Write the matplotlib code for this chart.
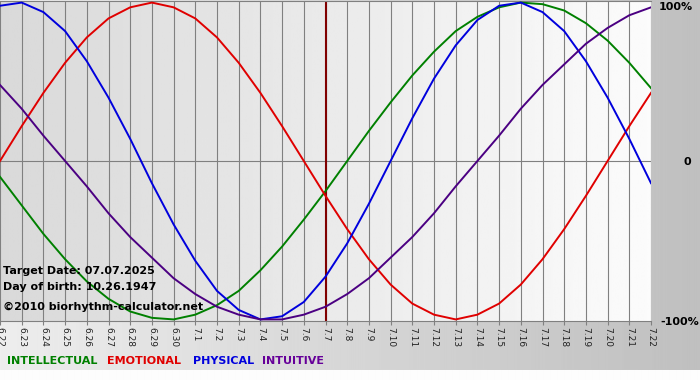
"""
Biorhythm chart 06.22 - 07.22 (target 07.07.2025)
"""
import numpy as np
import matplotlib.pyplot as plt

# date labels along the bottom
days = ["6.22", "6.23", "6.24", "6.25", "6.26", "6.27", "6.28", "6.29", "6.30",
        "7.1", "7.2", "7.3", "7.4", "7.5", "7.6", "7.7", "7.8", "7.9", "7.10",
        "7.11", "7.12", "7.13", "7.14", "7.15", "7.16", "7.17", "7.18", "7.19",
        "7.20", "7.21", "7.22"]
target_day = "7.7"

# values, one per day (-1 .. 1)
intellectual = [-0.10, -0.28, -0.46, -0.62, -0.76, -0.87, -0.95, -0.99, -1.00, -0.97,
                -0.91, -0.82, -0.69, -0.54, -0.37, -0.19, 0.00, 0.19, 0.37, 0.54,
                0.69, 0.82, 0.91, 0.97, 1.00, 0.99, 0.95, 0.87, 0.76, 0.62, 0.46]
emotional = [0.00, 0.22, 0.43, 0.62, 0.78, 0.90, 0.97, 1.00, 0.97, 0.90,
             0.78, 0.62, 0.43, 0.22, 0.00, -0.22, -0.43, -0.62, -0.78, -0.90,
             -0.97, -1.00, -0.97, -0.90, -0.78, -0.62, -0.43, -0.22, 0.00, 0.22, 0.43]
physical = [0.98, 1.00, 0.94, 0.82, 0.63, 0.40, 0.14, -0.14, -0.40, -0.63,
            -0.82, -0.94, -1.00, -0.98, -0.89, -0.73, -0.52, -0.27, 0.00, 0.27,
            0.52, 0.73, 0.89, 0.98, 1.00, 0.94, 0.82, 0.63, 0.40, 0.14, -0.14]
intuitive = [0.48, 0.33, 0.16, 0.00, -0.16, -0.33, -0.48, -0.61, -0.74, -0.84,
             -0.92, -0.97, -1.00, -1.00, -0.97, -0.92, -0.84, -0.74, -0.61, -0.48,
             -0.33, -0.16, 0.00, 0.16, 0.33, 0.48, 0.61, 0.74, 0.84, 0.92, 0.97]

series = [("INTELLECTUAL", intellectual, "#008000"),
          ("EMOTIONAL", emotional, "#e00000"),
          ("PHYSICAL", physical, "#0000dd"),
          ("INTUITIVE", intuitive, "#4b0082")]

W, H = 700, 380
fig = plt.figure(figsize=(W / 100, H / 100), dpi=100)

# frame background: light grey on the left, darker on the right
bg = fig.add_axes([0, 0, 1, 1], zorder=-2)
xs = np.linspace(0, 1, 300)
grad = np.tile(0.93 - 0.18 * xs, (H, 1))
grad[370:, :] = 0.99
bg.imshow(grad, cmap="gray", vmin=0, vmax=1, aspect="auto",
          extent=(0, 1, 0, 1), origin="upper")
bg.set_axis_off()

ax = fig.add_axes([0, 1 - 321 / H, 651 / W, 320 / H])
x = np.arange(len(days))
ax.imshow(np.linspace(0.85, 0.985, 256)[None, :], cmap="gray", vmin=0, vmax=1,
          aspect="auto", extent=(0, len(days) - 1, -1.01, 1.01), zorder=0)

for xi in x:
    ax.axvline(xi, color="#808080", lw=0.8, zorder=1)
ax.axhline(0, color="#808080", lw=0.8, zorder=1)

for name, vals, col in series:
    ax.plot(x, vals, color=col, lw=1.4, zorder=3)

ax.axvline(days.index(target_day), color="#800000", lw=1.5, zorder=2)

ax.set_xlim(0, len(days) - 1)
ax.set_ylim(-1.01, 1.01)
ax.set_xticks(x)
ax.set_xticklabels(days, rotation=270, fontsize=6.5, color="#222222")
ax.tick_params(axis="x", length=3, color="#808080", pad=1)
ax.set_yticks([])
for s in ["left", "right"]:
    ax.spines[s].set_visible(False)
for s in ["top", "bottom"]:
    ax.spines[s].set_color("#808080")
    ax.spines[s].set_linewidth(0.8)

# y labels on the right
fig.text(659 / W, 1 - 7 / H, "100%", fontsize=8, fontweight="bold", va="center")
fig.text(683 / W, 1 - 162 / H, "0", fontsize=8, fontweight="bold", va="center")
fig.text(660 / W, 1 - 322 / H, "-100%", fontsize=8, fontweight="bold", va="center")

# info text
fig.text(3 / W, 1 - 271 / H, "Target Date: 07.07.2025", fontsize=8, fontweight="bold", va="center")
fig.text(3 / W, 1 - 287 / H, "Day of birth: 10.26.1947", fontsize=8, fontweight="bold", va="center")
fig.text(3 / W, 1 - 307 / H, "\u00a92010 biorhythm-calculator.net", fontsize=8, fontweight="bold", va="center")

# legend
lx = [7, 107, 193, 262]
for (name, vals, col), px in zip(series, lx):
    fig.text(px / W, 1 - 361 / H, name, fontsize=8, fontweight="bold",
             color=col if name != "INTUITIVE" else "#660099", va="center")

fig.savefig("out.png", dpi=100)
